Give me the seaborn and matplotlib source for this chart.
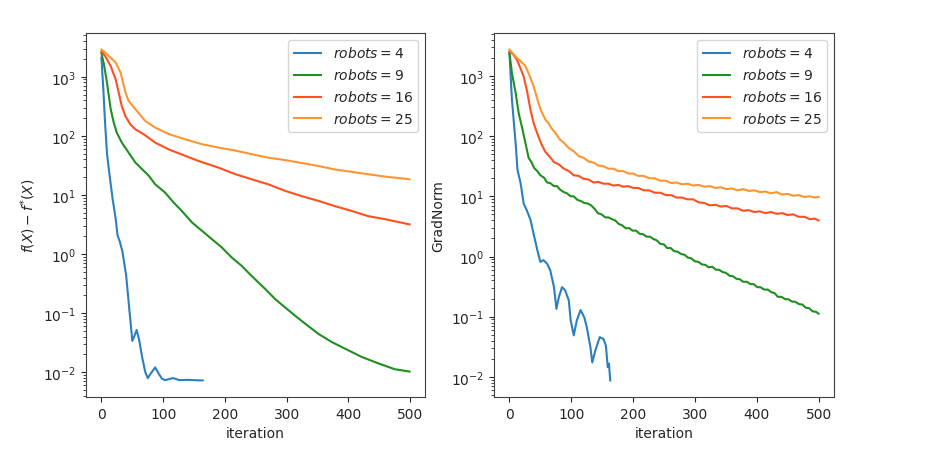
import numpy as np
import pandas as pd
import matplotlib
matplotlib.use("Agg")
import matplotlib.pyplot as plt
import seaborn as sns

# ---------------- data (log10 of values) ----------------
robots = [4, 9, 16, 25]
labels = [f"$robots = {r}$" for r in robots]

# Left panel: f(X) - f*(X)
f_it_r4 = [0, 3, 6, 9, 13, 18, 23, 26, 30, 34, 40, 45, 50, 53, 57, 61, 66, 71, 75,
           80, 87, 93, 98, 103, 110, 116, 122, 126, 140, 150, 164]
f_lg_r4 = [3.32, 2.8, 2.2, 1.7, 1.35, 0.94, 0.6, 0.32, 0.2, 0.04, -0.36, -0.92, -1.47,
           -1.40, -1.285, -1.45, -1.75, -2.0, -2.10, -2.02, -1.92, -2.03, -2.11, -2.135,
           -2.115, -2.10, -2.12, -2.135, -2.13, -2.135, -2.14]

f_it_r9 = [0, 4, 9, 15, 20, 25, 33, 44, 55, 66, 77, 87, 103, 117, 130, 147, 163, 179,
           195, 211, 227, 243, 265, 281, 297, 313, 330, 351, 373, 394, 421, 448, 475, 499]
f_lg_r9 = [3.40, 3.21, 2.90, 2.45, 2.22, 2.05, 1.885, 1.716, 1.547, 1.434, 1.32, 1.18,
           1.04, 0.87, 0.73, 0.53, 0.39, 0.25, 0.11, -0.06, -0.20, -0.37, -0.59, -0.76,
           -0.90, -1.04, -1.18, -1.35, -1.49, -1.60, -1.74, -1.85, -1.95, -1.99]

f_it_r16 = [0, 6, 15, 23, 28, 33, 39, 47, 55, 68, 87, 109, 136, 157, 190, 217, 243, 270,
            297, 324, 351, 378, 405, 432, 459, 499]
f_lg_r16 = [3.43, 3.35, 3.18, 2.955, 2.73, 2.50, 2.33, 2.19, 2.11, 2.03, 1.885, 1.77,
            1.66, 1.575, 1.46, 1.35, 1.265, 1.18, 1.07, 0.98, 0.90, 0.81, 0.73, 0.64,
            0.59, 0.50]

f_it_r25 = [0, 9, 23, 31, 39, 44, 55, 71, 87, 109, 136, 163, 190, 217, 243, 270, 297,
            324, 351, 378, 405, 432, 459, 499]
f_lg_r25 = [3.46, 3.38, 3.24, 3.07, 2.73, 2.59, 2.45, 2.25, 2.14, 2.03, 1.94, 1.857,
            1.80, 1.75, 1.69, 1.63, 1.59, 1.54, 1.49, 1.43, 1.39, 1.35, 1.31, 1.265]

# Right panel: GradNorm
g_it_r4 = [0, 4, 10, 13, 18, 23, 28, 34, 39, 45, 50, 55, 61, 66, 72, 76, 80, 85, 90,
           96, 99, 104, 109, 115, 121, 125, 131, 134, 139, 146, 152, 156, 159, 161, 163]
g_lg_r4 = [3.38, 2.61, 1.88, 1.44, 1.22, 0.88, 0.77, 0.61, 0.38, 0.11, -0.09, -0.06,
           -0.12, -0.23, -0.51, -0.87, -0.67, -0.51, -0.56, -0.73, -1.06, -1.31, -1.06,
           -0.89, -1.01, -1.17, -1.51, -1.76, -1.56, -1.34, -1.37, -1.48, -1.84, -1.78,
           -2.06]

g_it_r9 = [0, 4, 10, 15, 20, 26, 31, 36, 40, 45, 50, 56, 61, 66, 72, 77, 82, 88, 93,
           99, 104, 110, 116, 121, 127, 132, 138, 143, 149, 155, 160, 166, 171, 177, 182,
           188, 194, 199, 205, 210, 216, 222, 227, 233, 238, 244, 250, 255, 261, 266,
           272, 278, 283, 289, 294, 300, 306, 311, 317, 322, 328, 334, 339, 345, 350,
           356, 362, 367, 373, 378, 384, 390, 395, 401, 406, 412, 418, 423, 429, 434,
           440, 446, 451, 457, 462, 468, 474, 479, 485, 490, 496, 500]
g_lg_r9 = [3.38, 3.05, 2.72, 2.38, 2.16, 1.88, 1.64, 1.56, 1.47, 1.42, 1.35, 1.31, 1.23,
           1.22, 1.17, 1.17, 1.11, 1.07, 1.05, 1.00, 1.00, 0.94, 0.92, 0.89, 0.88, 0.85,
           0.79, 0.72, 0.70, 0.65, 0.65, 0.62, 0.60, 0.54, 0.52, 0.47, 0.47, 0.43, 0.43,
           0.38, 0.37, 0.33, 0.33, 0.29, 0.27, 0.21, 0.20, 0.14, 0.14, 0.09, 0.08, 0.04,
           0.03, -0.02, -0.03, -0.08, -0.09, -0.13, -0.14, -0.18, -0.17, -0.22, -0.22,
           -0.26, -0.27, -0.32, -0.33, -0.37, -0.38, -0.42, -0.42, -0.46, -0.46, -0.51,
           -0.51, -0.55, -0.55, -0.59, -0.61, -0.67, -0.67, -0.71, -0.71, -0.75, -0.75,
           -0.79, -0.80, -0.85, -0.86, -0.91, -0.92, -0.95]

g_it_r16 = [0, 6, 12, 17, 23, 28, 34, 39, 43, 47, 52, 58, 64, 72, 80, 88, 96, 104, 112,
            120, 128, 136, 144, 152, 160, 168, 176, 184, 192, 200, 208, 217, 226, 235,
            244, 253, 262, 270, 279, 288, 297, 306, 315, 324, 333, 342, 351, 360, 369,
            378, 387, 396, 405, 414, 423, 432, 441, 450, 459, 468, 477, 486, 494, 500]
g_lg_r16 = [3.41, 3.36, 3.27, 3.15, 2.99, 2.77, 2.44, 2.22, 2.10, 1.99, 1.86, 1.74, 1.67,
            1.57, 1.53, 1.46, 1.42, 1.35, 1.34, 1.29, 1.28, 1.23, 1.24, 1.21, 1.21, 1.18,
            1.19, 1.16, 1.17, 1.14, 1.14, 1.10, 1.10, 1.06, 1.06, 1.02, 1.02, 0.98, 0.98,
            0.95, 0.95, 0.90, 0.89, 0.85, 0.86, 0.83, 0.84, 0.80, 0.80, 0.76, 0.77, 0.74,
            0.75, 0.72, 0.74, 0.71, 0.72, 0.69, 0.70, 0.66, 0.66, 0.62, 0.63, 0.60]

g_it_r25 = [0, 6, 12, 19, 26, 32, 39, 43, 47, 51, 55, 59, 63, 68, 74, 81, 88, 96, 104,
            112, 120, 128, 136, 144, 152, 160, 168, 176, 184, 192, 200, 208, 217, 226,
            235, 244, 253, 262, 270, 279, 288, 297, 306, 315, 324, 333, 342, 351, 360,
            369, 378, 387, 396, 405, 414, 423, 432, 441, 450, 459, 468, 477, 486, 494, 500]
g_lg_r25 = [3.44, 3.37, 3.30, 3.24, 3.16, 3.02, 2.83, 2.69, 2.55, 2.43, 2.34, 2.26, 2.22,
            2.13, 2.06, 1.95, 1.89, 1.80, 1.75, 1.67, 1.64, 1.58, 1.56, 1.51, 1.50, 1.46,
            1.46, 1.42, 1.42, 1.38, 1.38, 1.34, 1.34, 1.30, 1.30, 1.26, 1.26, 1.22, 1.23,
            1.20, 1.21, 1.18, 1.19, 1.16, 1.17, 1.14, 1.15, 1.12, 1.13, 1.10, 1.12, 1.09,
            1.10, 1.07, 1.08, 1.05, 1.07, 1.03, 1.04, 1.01, 1.02, 0.99, 1.00, 0.98, 0.99]

colors = ["#2b7fc0", "#1f8f1f", "#ff5020", "#ff9530"]

# ---------------- figure ----------------
plt.rcParams["font.family"] = ["DejaVu Sans"]
plt.rcParams["font.size"] = 10
plt.rcParams["text.color"] = "#262626"
plt.rcParams["axes.labelcolor"] = "#262626"
plt.rcParams["xtick.color"] = "#262626"
plt.rcParams["ytick.color"] = "#262626"
plt.rcParams["axes.edgecolor"] = "#404040"

fig = plt.figure(figsize=(9.27, 4.60), dpi=100)
ax1 = fig.add_axes([0.0928, 0.1348, 0.3657, 0.7913])
ax2 = fig.add_axes([0.5329, 0.1348, 0.3668, 0.7913])


def build(series):
    frames = []
    for lab, (its, lgs) in zip(labels, series):
        frames.append(pd.DataFrame({"iteration": its,
                                    "value": np.power(10.0, lgs),
                                    "robots": lab}))
    return pd.concat(frames, ignore_index=True)


df_f = build([(f_it_r4, f_lg_r4), (f_it_r9, f_lg_r9),
              (f_it_r16, f_lg_r16), (f_it_r25, f_lg_r25)])
df_g = build([(g_it_r4, g_lg_r4), (g_it_r9, g_lg_r9),
              (g_it_r16, g_lg_r16), (g_it_r25, g_lg_r25)])

pal = dict(zip(labels, colors))
for ax, df, ylab in [(ax1, df_f, r"$f(X) - f^{*}(X)$"), (ax2, df_g, "GradNorm")]:
    sns.lineplot(data=df, x="iteration", y="value", hue="robots", hue_order=labels,
                 palette=pal, estimator=None, sort=False, linewidth=1.5, ax=ax)
    ax.set_yscale("log")
    ax.set_xlabel("iteration")
    ax.set_ylabel(ylab)
    ax.set_xticks([0, 100, 200, 300, 400, 500])
    ax.xaxis.offsetText.set_visible(False)
    ax.yaxis.offsetText.set_visible(False)
    h, l = ax.get_legend_handles_labels()
    ax.legend(h, l, loc="upper right", fontsize=10)

fig.savefig("out.png", dpi=100)
